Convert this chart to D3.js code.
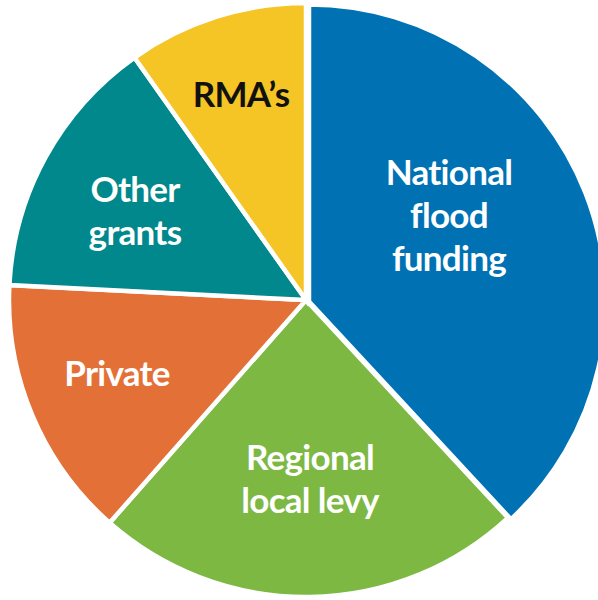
<!DOCTYPE html>
<html>
<head>
<meta charset="utf-8">
<script src="https://cdn.jsdelivr.net/npm/d3@7/dist/d3.min.js"></script>
<style>
  html, body { margin: 0; padding: 0; background: #fff; }
  svg { display: block; }
</style>
</head>
<body>
<svg id="chart" width="598" height="600"></svg>
<script>
// ---- data ----
const categories = ["National flood funding", "Regional local levy", "Private", "Other grants", "RMA's"];
const shares = [38.1, 23.4, 14.3, 14.4, 9.8];
const labelLines = [
  ["National", "flood", "funding"],
  ["Regional", "local levy"],
  ["Private"],
  ["Other", "grants"],
  ["RMA\u2019s"]
];
const colors = ["#0072B4", "#7DB843", "#E37137", "#00888C", "#F5C425"];
const textColors = ["#fff", "#fff", "#fff", "#fff", "#111"];

// ---- layout ----
const cx = 306, cy = 300, R = 297;
const labelAnchor = [[449, 185], [310, 470], [117, 386], [135, 202], [241, 107]];
const explode = [[3, 1.5], [0, 0], [0, 0], [0, 0], [0, 0]];
const lineH = 43;

const svg = d3.select("#chart");
const g = svg.append("g").attr("transform", `translate(${cx},${cy})`);

const pie = d3.pie().sort(null).value(d => d.v);
const arc = d3.arc().innerRadius(0).outerRadius(R);
const data = pie(categories.map((c, i) => ({c, v: shares[i], i})));

g.selectAll("path").data(data).join("path")
  .attr("d", arc)
  .attr("transform", d => `translate(${explode[d.data.i][0]},${explode[d.data.i][1]})`)
  .attr("fill", d => colors[d.data.i])
  .attr("stroke", "#fff")
  .attr("stroke-width", 4.5)
  .attr("stroke-linejoin", "miter");

const t = svg.selectAll("text.lbl").data(data).join("text")
  .attr("class", "lbl")
  .attr("text-anchor", "middle")
  .attr("font-family", "Lato, 'Open Sans', sans-serif")
  .attr("font-weight", 700)
  .attr("font-size", 35)
  .attr("letter-spacing", -0.7)
  .attr("fill", d => textColors[d.data.i]);

t.each(function(d) {
  const [x, y] = labelAnchor[d.data.i];
  d3.select(this).selectAll("tspan").data(labelLines[d.data.i]).join("tspan")
    .attr("x", x)
    .attr("y", (s, k) => y + k * lineH)
    .text(s => s);
});
</script>
</body>
</html>
